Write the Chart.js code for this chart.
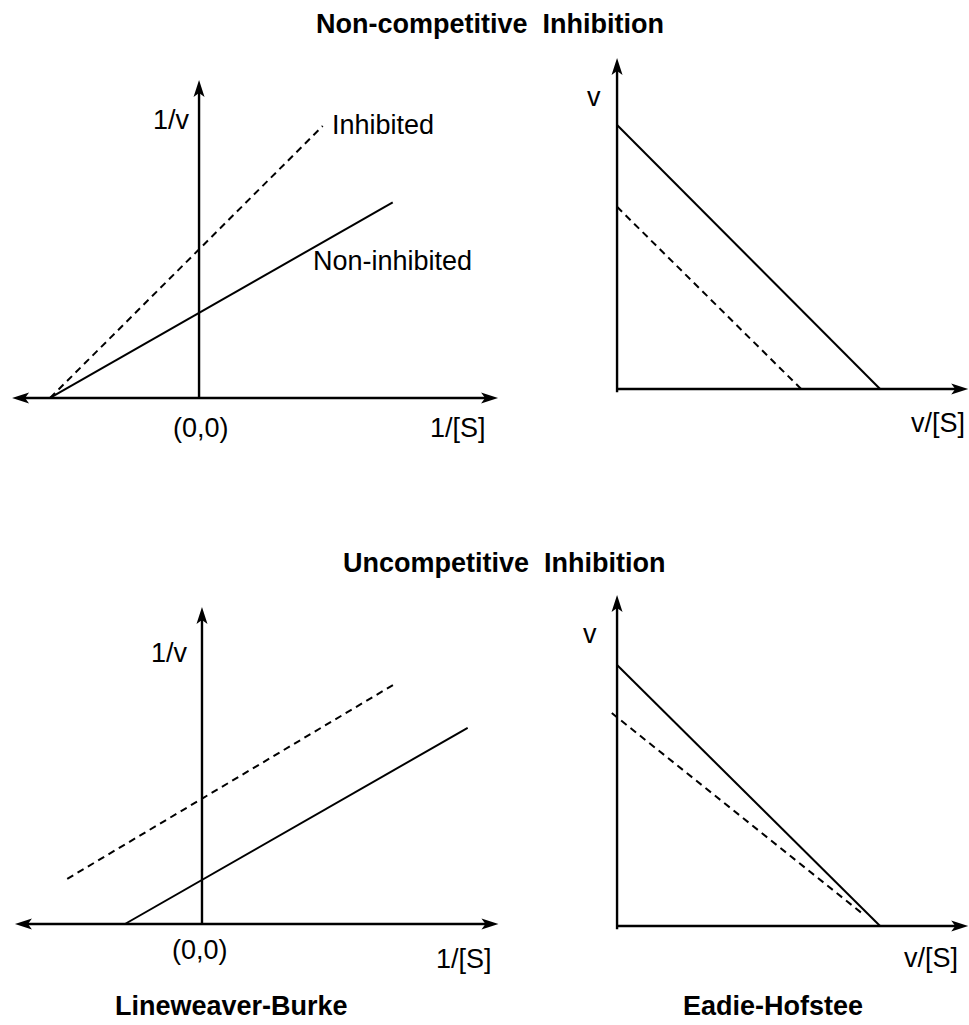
<!DOCTYPE html>
<html>
<head>
<meta charset="utf-8">
<script src="https://cdn.jsdelivr.net/npm/chart.js@4"></script>
<style>
  body { margin: 0; background: #fff; }
  #page { position: relative; width: 969px; height: 1025px; overflow: hidden; font-family: "Liberation Sans", Arial, sans-serif; color: #000; }
  .panel { position: absolute; }
  .txt { position: absolute; font-size: 27px; line-height: 27px; white-space: nowrap; }
  .bold { font-weight: bold; font-size: 27px; line-height: 27px; }
</style>
</head>
<body>
<div id="page">
  <div class="txt bold" style="left:316px; top:11px;">Non-competitive&nbsp; Inhibition</div>
  <div class="txt bold" style="left:343px; top:550px;">Uncompetitive&nbsp; Inhibition</div>
  <div class="txt bold" style="left:115px; top:993px;">Lineweaver-Burke</div>
  <div class="txt bold" style="left:683px; top:993px;">Eadie-Hofstee</div>

  <div class="txt" style="left:153px; top:107px;">1/v</div>
  <div class="txt" style="left:332px; top:112px;">Inhibited</div>
  <div class="txt" style="left:313px; top:248px;">Non-inhibited</div>
  <div class="txt" style="left:173px; top:415px;">(0,0)</div>
  <div class="txt" style="left:430px; top:415px;">1/[S]</div>

  <div class="txt" style="left:587px; top:84px;">v</div>
  <div class="txt" style="left:911px; top:410px;">v/[S]</div>

  <div class="txt" style="left:151px; top:640px;">1/v</div>
  <div class="txt" style="left:172px; top:937px;">(0,0)</div>
  <div class="txt" style="left:436px; top:946px;">1/[S]</div>

  <div class="txt" style="left:583px; top:621px;">v</div>
  <div class="txt" style="left:904px; top:945px;">v/[S]</div>

  <div class="panel" style="left:0px; top:50px;"><canvas id="c1" width="500" height="400"></canvas></div>
  <div class="panel" style="left:500px; top:50px;"><canvas id="c2" width="469" height="400"></canvas></div>
  <div class="panel" style="left:0px; top:570px;"><canvas id="c3" width="500" height="420"></canvas></div>
  <div class="panel" style="left:500px; top:570px;"><canvas id="c4" width="469" height="420"></canvas></div>
</div>
<script>
// Non-competitive, Lineweaver-Burke (1/[S] vs 1/v)
const ncLbX = [-1, 1.3];
const ncLbY = [0, 2.3];
const ncLbInhX = [-1, 0.83];
const ncLbInhY = [0, 3.2];

// Non-competitive, Eadie-Hofstee (v/[S] vs v)
const ncEhX = [0, 1];
const ncEhY = [1, 0];
const ncEhInhX = [0, 0.70];
const ncEhInhY = [0.69, 0];

// Uncompetitive, Lineweaver-Burke
const ucLbX = [-1, 3.45];
const ucLbY = [0, 4.56];
const ucLbInhX = [-1.75, 2.52];
const ucLbInhY = [1.05, 5.6];

// Uncompetitive, Eadie-Hofstee
const ucEhX = [0, 1];
const ucEhY = [1, 0];
const ucEhInhX = [-0.02, 0.93];
const ucEhInhY = [0.816, 0.05];

function pts(xs, ys) {
    return xs.map((x, i) => ({ x: x, y: ys[i] }));
}

// draws the arrowed axes through the origin
const axesArrows = {
    id: 'axesArrows',
    beforeDatasetsDraw(chart, args, opts) {
        const ctx = chart.ctx;
        const sx = chart.scales.x;
        const sy = chart.scales.y;
        const ox = sx.getPixelForValue(0);
        const oy = sy.getPixelForValue(0);
        const x0 = sx.getPixelForValue(opts.xFrom);
        const x1 = sx.getPixelForValue(opts.xTo);
        const y0 = sy.getPixelForValue(opts.yFrom);
        const y1 = sy.getPixelForValue(opts.yTo);
        ctx.save();
        ctx.strokeStyle = '#000';
        ctx.fillStyle = '#000';
        ctx.lineWidth = 2.4;
        ctx.beginPath();
        ctx.moveTo(opts.leftArrow ? x0 + 10 : x0, oy);
        ctx.lineTo(x1 - 10, oy);
        ctx.moveTo(ox, y0);
        ctx.lineTo(ox, y1 + 10);
        ctx.stroke();

        function arrow(tx, ty, dx, dy) {
            const len = 17, half = 5.5, notch = 13;
            const px = -dy, py = dx;
            ctx.beginPath();
            ctx.moveTo(tx, ty);
            ctx.lineTo(tx - dx * len + px * half, ty - dy * len + py * half);
            ctx.lineTo(tx - dx * notch, ty - dy * notch);
            ctx.lineTo(tx - dx * len - px * half, ty - dy * len - py * half);
            ctx.closePath();
            ctx.fill();
        }
        arrow(x1, oy, 1, 0);
        arrow(ox, y1, 0, -1);
        if (opts.leftArrow) arrow(x0, oy, -1, 0);
        ctx.restore();
    }
};

function makePanel(id, plain, inhibited, xr, yr, axes) {
    return new Chart(document.getElementById(id), {
        type: 'scatter',
        data: {
            datasets: [
                {
                    label: 'Non-inhibited',
                    data: plain,
                    showLine: true,
                    borderColor: '#000',
                    borderWidth: 2,
                    pointRadius: 0,
                    fill: false,
                },
                {
                    label: 'Inhibited',
                    data: inhibited,
                    showLine: true,
                    borderColor: '#000',
                    borderWidth: 2,
                    borderDash: [7, 5],
                    pointRadius: 0,
                    fill: false,
                },
            ],
        },
        options: {
            responsive: false,
            animation: false,
            devicePixelRatio: 1,
            layout: { padding: 0 },
            scales: {
                x: { type: 'linear', display: false, min: xr[0], max: xr[1] },
                y: { type: 'linear', display: false, min: yr[0], max: yr[1] },
            },
            plugins: {
                legend: { display: false },
                tooltip: { enabled: false },
                axesArrows: axes,
            },
        },
        plugins: [axesArrows],
    });
}

makePanel('c1', pts(ncLbX, ncLbY), pts(ncLbInhX, ncLbInhY),
    [-1.336, 2.020], [-0.612, 4.094],
    { xFrom: -1.255, xTo: 2.007, yFrom: 0, yTo: 3.74, leftArrow: true });
makePanel('c2', pts(ncEhX, ncEhY), pts(ncEhInhX, ncEhInhY),
    [-0.445, 1.338], [-0.231, 1.284],
    { xFrom: 0, xTo: 1.335, yFrom: -0.012, yTo: 1.254, leftArrow: false });
makePanel('c3', pts(ucLbX, ucLbY), pts(ucLbInhX, ucLbInhY),
    [-2.623, 3.870], [-1.535, 8.233],
    { xFrom: -2.429, xTo: 3.85, yFrom: 0, yTo: 7.37, leftArrow: true });
makePanel('c4', pts(ucEhX, ucEhY), pts(ucEhInhX, ucEhInhY),
    [-0.445, 1.338], [-0.245, 1.364],
    { xFrom: 0, xTo: 1.335, yFrom: -0.012, yTo: 1.268, leftArrow: false });
</script>
</body>
</html>
